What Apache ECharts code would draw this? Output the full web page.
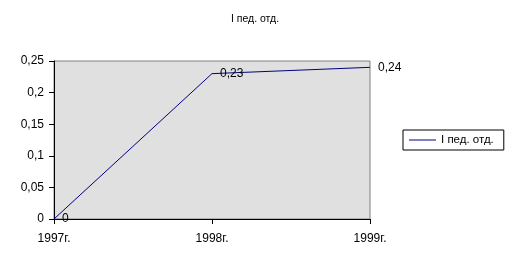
<!DOCTYPE html>
<html><head><meta charset="utf-8">
<script src="https://cdn.jsdelivr.net/npm/echarts@6/dist/echarts.min.js"></script>
<style>html,body{margin:0;padding:0;background:#fff}#c{width:510px;height:267px}</style>
</head><body><div id="c"></div>
<script>
const categories = ['1997г.', '1998г.', '1999г.'];
const values = [0, 0.23, 0.24];
const seriesName = 'I пед. отд.';
const titleText = 'I пед. отд.';
const yTicks = [0, 0.05, 0.1, 0.15, 0.2, 0.25];

const fmt = v => String(v).replace('.', ',');
const chart = echarts.init(document.getElementById('c'), null, {renderer: 'canvas'});
chart.setOption({
  animation: false,
  textStyle: {fontFamily: 'Liberation Sans, Arial, sans-serif'},
  title: {text: titleText, left: 'center', top: 9, textStyle: {fontSize: 10.5, fontWeight: 'normal', color: '#000'}},
  grid: {left: 54, right: 140, top: 61, bottom: 48, show: true, backgroundColor: '#e0e0e0', borderColor: '#808080', borderWidth: 1},
  legend: {
    left: 403, top: 130, orient: 'vertical',
    borderColor: '#000', borderWidth: 1, padding: [4, 10, 4, 6],
    icon: 'rect', itemWidth: 27, itemHeight: 1, itemGap: 0,
    itemStyle: {color: '#000080', opacity: 1},
    textStyle: {fontSize: 11.5, color: '#000'},
    data: [seriesName]
  },
  xAxis: {
    type: 'category', data: categories, boundaryGap: false,
    axisLine: {lineStyle: {color: '#000', width: 1}},
    axisTick: {show: true, length: 5, lineStyle: {color: '#000'}},
    axisLabel: {fontSize: 12, color: '#000', margin: 14},
    splitLine: {show: false}
  },
  yAxis: {
    type: 'value', min: 0, max: 0.25, interval: 0.05,
    axisLine: {show: true, lineStyle: {color: '#000', width: 1}},
    axisTick: {show: true, length: 5, lineStyle: {color: '#000'}},
    axisLabel: {fontSize: 12, color: '#000', margin: 10, formatter: v => fmt(+v.toFixed(2))},
    splitLine: {show: false}
  },
  series: [{
    name: seriesName, type: 'line', data: values,
    symbol: 'circle', symbolSize: 0, showSymbol: true,
    lineStyle: {color: '#000080', width: 1},
    itemStyle: {color: '#000080'},
    label: {show: true, position: 'right', distance: 8, fontSize: 12, color: '#000', formatter: p => fmt(p.value)}
  }]
});
</script></body></html>
